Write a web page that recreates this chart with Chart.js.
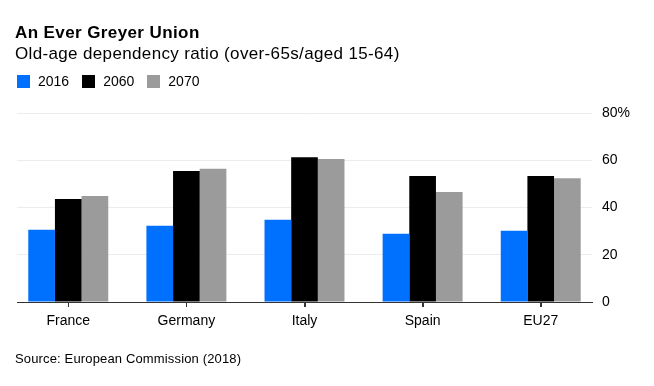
<!DOCTYPE html>
<html>
<head>
<meta charset="utf-8">
<script src="https://cdn.jsdelivr.net/npm/chart.js@4/dist/chart.umd.min.js"></script>
<style>
  html, body { margin: 0; padding: 0; background: #fff; }
  body { width: 654px; height: 386px; position: relative; overflow: hidden; font-family: "Liberation Sans", Arial, Helvetica, sans-serif; color: #000; }
  #title { position: absolute; left: 15px; top: 23px; font-size: 17px; font-weight: bold; line-height: 20px; letter-spacing: 0.4px; white-space: nowrap; }
  #subtitle { position: absolute; left: 15px; top: 44px; font-size: 17px; line-height: 20px; letter-spacing: 0.35px; white-space: nowrap; }
  #legend { position: absolute; left: 17px; top: 73px; height: 17px; display: flex; align-items: center; font-size: 14px; line-height: 17px; }
  #legend .item { display: flex; align-items: center; margin-right: 13px; }
  #legend .sw { width: 13px; height: 13px; margin-right: 8px; }
  #source { position: absolute; left: 15px; top: 351px; font-size: 13px; line-height: 16px; letter-spacing: 0.15px; white-space: nowrap; }
  #wrap { position: absolute; left: 0; top: 0; width: 654px; height: 386px; }
</style>
</head>
<body>
<div id="wrap"><canvas id="c" width="654" height="386"></canvas></div>
<div id="title">An Ever Greyer Union</div>
<div id="subtitle">Old-age dependency ratio (over-65s/aged 15-64)</div>
<div id="legend"></div>
<div id="source">Source: European Commission (2018)</div>
<script>
const categories = ["France", "Germany", "Italy", "Spain", "EU27"];
const seriesNames = ["2016", "2060", "2070"];
const values2016 = [30.6, 32.3, 34.8, 28.9, 30.2];
const values2060 = [43.6, 55.5, 61.3, 53.3, 53.3];
const values2070 = [44.9, 56.4, 60.5, 46.6, 52.4];
const yTicks = [0, 20, 40, 60, 80];
const colors = ["#0070ff", "#000000", "#9b9b9b"];

const seriesValues = [values2016, values2060, values2070];

// HTML legend built from series names/colours
const legend = document.getElementById('legend');
seriesNames.forEach((n, i) => {
  const it = document.createElement('div');
  it.className = 'item';
  const sw = document.createElement('div');
  sw.className = 'sw';
  sw.style.background = colors[i];
  const tx = document.createElement('span');
  tx.textContent = n;
  it.appendChild(sw); it.appendChild(tx);
  legend.appendChild(it);
});

const datasets = seriesNames.map((n, i) => ({
  label: n,
  data: seriesValues[i].map((v, j) => ({ x: j, y: v })),
  backgroundColor: colors[i],
  borderWidth: 0,
  categoryPercentage: 0.677,
  barPercentage: 1.0
}));

// draws the small category tick marks below the x axis at the scale's tick positions
const xTickMarks = {
  id: 'xTickMarks',
  afterDraw(chart) {
    const s = chart.scales.x;
    const ctx = chart.ctx;
    ctx.save();
    ctx.strokeStyle = '#333';
    ctx.lineWidth = 1;
    s.ticks.forEach((t, i) => {
      const px = Math.round(s.getPixelForTick(i)) + 0.5;
      ctx.beginPath();
      ctx.moveTo(px, s.top);
      ctx.lineTo(px, s.top + 5);
      ctx.stroke();
    });
    ctx.restore();
  }
};

new Chart(document.getElementById('c'), {
  type: 'bar',
  data: { datasets },
  plugins: [xTickMarks],
  options: {
    responsive: false,
    animation: false,
    devicePixelRatio: 1,
    layout: { padding: { top: 113, left: 17, right: 0, bottom: 0 } },
    plugins: { legend: { display: false }, tooltip: { enabled: false }, title: { display: false } },
    scales: {
      x: {
        type: 'linear',
        min: -0.434,
        max: categories.length - 1 + 0.434,
        offset: false,
        afterBuildTicks: (s) => { s.ticks = categories.map((c, i) => ({ value: i })); },
        afterFit: (s) => { s.height = 84; },
        grid: { display: true, offset: false, drawOnChartArea: false, drawTicks: true, tickLength: 5, color: '#333', tickColor: '#333', tickWidth: 1, lineWidth: 1 },
        border: { display: true, color: '#333', width: 1 },
        ticks: {
          autoSkip: false, maxRotation: 0, minRotation: 0, padding: 6,
          color: '#000',
          font: { family: '"Liberation Sans", Arial, sans-serif', size: 14 },
          callback: (v) => categories[v]
        }
      },
      y: {
        position: 'right',
        min: 0, max: 80,
        afterBuildTicks: (s) => { s.ticks = yTicks.map(v => ({ value: v })); },
        afterFit: (s) => { s.width = 62; },
        grid: { color: '#ececec', lineWidth: 1, drawTicks: false },
        border: { display: false },
        ticks: {
          padding: 10,
          color: '#000',
          font: { family: '"Liberation Sans", Arial, sans-serif', size: 14 },
          callback: (v) => v === 80 ? '80%' : String(v)
        }
      }
    }
  }
});
</script>
</body>
</html>
